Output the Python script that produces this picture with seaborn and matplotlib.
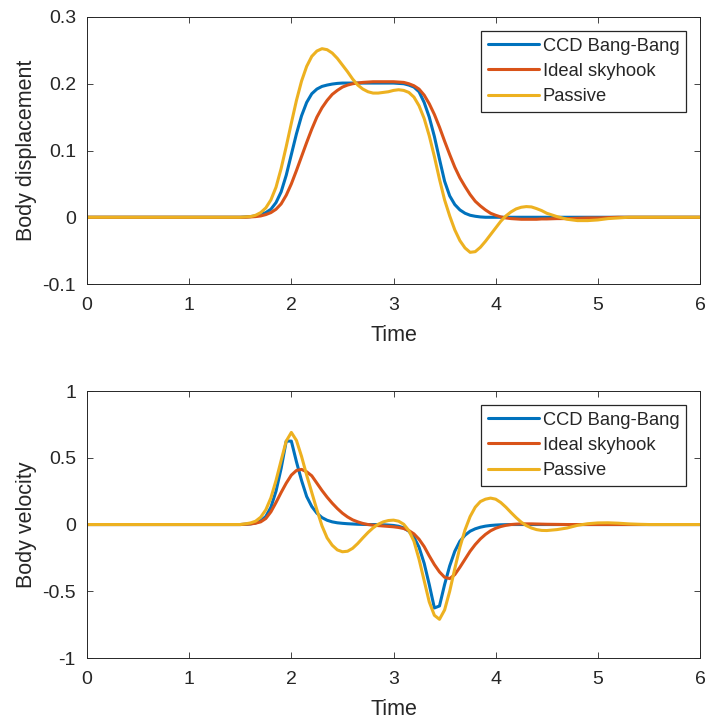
import matplotlib
matplotlib.use("Agg")
import matplotlib.pyplot as plt
import seaborn as sns
import pandas as pd

# Sample times (s)
time = [0.0, 1.0,
        1.50, 1.55, 1.60, 1.65, 1.70, 1.75, 1.80, 1.85, 1.90, 1.95,
        2.00, 2.05, 2.10, 2.15, 2.20, 2.25, 2.30, 2.35, 2.40, 2.45,
        2.50, 2.55, 2.60, 2.65, 2.70, 2.75, 2.80, 2.85, 2.90, 2.95,
        3.00, 3.05, 3.10, 3.15, 3.20, 3.25, 3.30, 3.35, 3.40, 3.45,
        3.50, 3.55, 3.60, 3.65, 3.70, 3.75, 3.80, 3.85, 3.90, 3.95,
        4.00, 4.05, 4.10, 4.15, 4.20, 4.25, 4.30, 4.35, 4.40, 4.45,
        4.50,
        4.6, 4.7, 4.8, 4.9, 5.0, 5.1, 5.2, 5.3, 5.4, 5.5, 5.6, 5.8, 6.0]

# Body displacement
bangbang_disp = [0, 0,
    0, 0.0005, 0.001, 0.002, 0.004, 0.007, 0.012, 0.022, 0.038, 0.063,
    0.094, 0.125, 0.152, 0.172, 0.185, 0.192, 0.196, 0.198, 0.1995, 0.2005,
    0.201, 0.201, 0.201, 0.201, 0.201, 0.201, 0.201, 0.201, 0.201, 0.201,
    0.201, 0.2005, 0.200, 0.198, 0.195, 0.188, 0.172, 0.150, 0.121, 0.087,
    0.054, 0.032, 0.019, 0.011, 0.006, 0.003, 0.0015, 0.0005, 0, 0,
    0, 0, 0, 0, 0, 0, 0, 0, 0, 0,
    0,
    0, 0, 0, 0, 0, 0, 0, 0, 0, 0, 0, 0, 0]

skyhook_disp = [0, 0,
    0, 0, 0.0005, 0.001, 0.002, 0.004, 0.007, 0.012, 0.020, 0.033,
    0.050, 0.070, 0.091, 0.112, 0.132, 0.150, 0.164, 0.175, 0.184, 0.190,
    0.195, 0.198, 0.200, 0.201, 0.202, 0.2025, 0.203, 0.203, 0.203, 0.203,
    0.203, 0.2025, 0.202, 0.200, 0.197, 0.192, 0.183, 0.170, 0.154, 0.135,
    0.114, 0.094, 0.075, 0.059, 0.046, 0.034, 0.024, 0.017, 0.011, 0.006,
    0.003, 0.0005, -0.001, -0.002, -0.0025, -0.003, -0.003, -0.003, -0.003, -0.0025,
    -0.0025,
    -0.002, -0.002, -0.0015, -0.001, -0.001, -0.0005, 0, 0, 0, 0, 0, 0, 0]

passive_disp = [0, 0,
    0, 0.0005, 0.001, 0.003, 0.007, 0.014, 0.026, 0.045, 0.073, 0.106,
    0.141, 0.175, 0.204, 0.226, 0.241, 0.249, 0.2525, 0.251, 0.246, 0.238,
    0.228, 0.218, 0.207, 0.198, 0.192, 0.188, 0.186, 0.186, 0.187, 0.188,
    0.190, 0.191, 0.190, 0.187, 0.180, 0.167, 0.148, 0.122, 0.091, 0.057,
    0.026, 0.002, -0.019, -0.035, -0.046, -0.0525, -0.0515, -0.045, -0.036, -0.026,
    -0.016, -0.006, 0.002, 0.008, 0.0125, 0.015, 0.016, 0.0155, 0.013, 0.010,
    0.006,
    0.001, -0.003, -0.005, -0.005, -0.004, -0.002, -0.001, 0, 0, 0, 0, 0, 0]

# Body velocity
bangbang_vel = [0, 0,
    0, 0.002, 0.005, 0.012, 0.028, 0.060, 0.130, 0.250, 0.420, 0.625,
    0.625, 0.470, 0.330, 0.210, 0.135, 0.085, 0.052, 0.032, 0.020, 0.013,
    0.009, 0.006, 0.004, 0.002, 0.001, 0, 0, -0.001, -0.002, -0.004,
    -0.007, -0.013, -0.025, -0.050, -0.095, -0.170, -0.290, -0.450, -0.625, -0.610,
    -0.450, -0.310, -0.200, -0.125, -0.080, -0.050, -0.032, -0.020, -0.012, -0.007,
    -0.004, -0.002, -0.001, 0, 0, 0, 0, 0, 0, 0,
    0,
    0, 0, 0, 0, 0, 0, 0, 0, 0, 0, 0, 0, 0]

skyhook_vel = [0, 0,
    0, 0.002, 0.004, 0.010, 0.020, 0.045, 0.095, 0.165, 0.240, 0.310,
    0.370, 0.405, 0.413, 0.395, 0.365, 0.310, 0.255, 0.205, 0.160, 0.120,
    0.085, 0.057, 0.035, 0.020, 0.008, 0, -0.005, -0.008, -0.011, -0.014,
    -0.017, -0.022, -0.030, -0.045, -0.070, -0.110, -0.165, -0.235, -0.300, -0.355,
    -0.395, -0.405, -0.375, -0.320, -0.260, -0.200, -0.150, -0.108, -0.074, -0.047,
    -0.028, -0.015, -0.006, 0, 0.003, 0.005, 0.005, 0.005, 0.004, 0.003,
    0.002,
    0.001, 0, 0, 0, 0, 0, 0, 0, 0, 0, 0, 0, 0]

passive_vel = [0, 0,
    0, 0.005, 0.012, 0.025, 0.055, 0.110, 0.200, 0.330, 0.480, 0.625,
    0.690, 0.630, 0.510, 0.370, 0.240, 0.110, -0.010, -0.100, -0.155, -0.190,
    -0.204, -0.200, -0.178, -0.142, -0.100, -0.060, -0.025, 0.002, 0.020, 0.030,
    0.033, 0.025, 0.002, -0.045, -0.125, -0.260, -0.420, -0.580, -0.680, -0.710,
    -0.640, -0.500, -0.330, -0.170, -0.040, 0.060, 0.130, 0.172, 0.190, 0.198,
    0.190, 0.165, 0.130, 0.090, 0.052, 0.018, -0.008, -0.026, -0.038, -0.044,
    -0.045,
    -0.038, -0.026, -0.006, 0.006, 0.012, 0.013, 0.010, 0.005, 0.002, 0, 0, 0, 0]

series_names = ["CCD Bang-Bang", "Ideal skyhook", "Passive"]
series_colors = ["#0072BD", "#D95319", "#EDB120"]

disp_ticks = [-0.1, 0, 0.1, 0.2, 0.3]
disp_ticklabels = ["-0.1", "0", "0.1", "0.2", "0.3"]
vel_ticks = [-1, -0.5, 0, 0.5, 1]
vel_ticklabels = ["-1", "-0.5", "0", "0.5", "1"]
time_ticks = [0, 1, 2, 3, 4, 5, 6]

sns.set_style("ticks")
plt.rcParams["font.family"] = ["Liberation Sans", "DejaVu Sans"]
plt.rcParams["axes.unicode_minus"] = False

ink = "#262626"

def long_frame(columns):
    parts = []
    for name, vals in zip(series_names, columns):
        parts.append(pd.DataFrame({"Time": time, "value": vals, "series": name}))
    return pd.concat(parts, ignore_index=True)

disp_df = long_frame([bangbang_disp, skyhook_disp, passive_disp])
vel_df = long_frame([bangbang_vel, skyhook_vel, passive_vel])

fig = plt.figure(figsize=(7.08, 7.22), dpi=100)
ax_top = fig.add_axes([0.1229, 0.6066, 0.8658, 0.3699])
ax_bot = fig.add_axes([0.1229, 0.0886, 0.8658, 0.3698])

palette = dict(zip(series_names, series_colors))

for ax, df, ylabel, yticks, yticklabels, ylim in [
        (ax_top, disp_df, "Body displacement", disp_ticks, disp_ticklabels, (-0.1, 0.3)),
        (ax_bot, vel_df, "Body velocity", vel_ticks, vel_ticklabels, (-1, 1))]:
    sns.lineplot(data=df, x="Time", y="value", hue="series", palette=palette,
                 hue_order=series_names, sort=False, estimator=None,
                 linewidth=2.2, ax=ax)
    ax.set_xlim(0, 6)
    ax.set_ylim(*ylim)
    ax.set_xticks(time_ticks)
    ax.set_xticklabels([str(v) for v in time_ticks])
    ax.set_yticks(yticks)
    ax.set_yticklabels(yticklabels)
    ax.set_xlabel("Time", fontsize=15.5, color=ink, labelpad=8)
    ax.set_ylabel(ylabel, fontsize=15.5, color=ink, labelpad=4)
    ax.tick_params(direction="in", length=4, width=0.6, colors=ink,
                   labelsize=14, top=True, right=True, pad=9.5)
    ax.tick_params(axis="y", pad=8)
    for side in ax.spines.values():
        side.set_visible(True)
        side.set_color(ink)
        side.set_linewidth(0.7)
    leg = ax.legend(loc="upper right", fontsize=13.2, frameon=True,
                    fancybox=False, framealpha=1, edgecolor=ink,
                    handlelength=2.75, handletextpad=0.22, labelspacing=0.45,
                    borderpad=0.38, borderaxespad=0.74)
    leg.get_frame().set_linewidth(0.9)
    for line in leg.get_lines():
        line.set_linewidth(2.2)
    for txt in leg.get_texts():
        txt.set_color(ink)

fig.savefig("out.png", dpi=100, facecolor="white")
